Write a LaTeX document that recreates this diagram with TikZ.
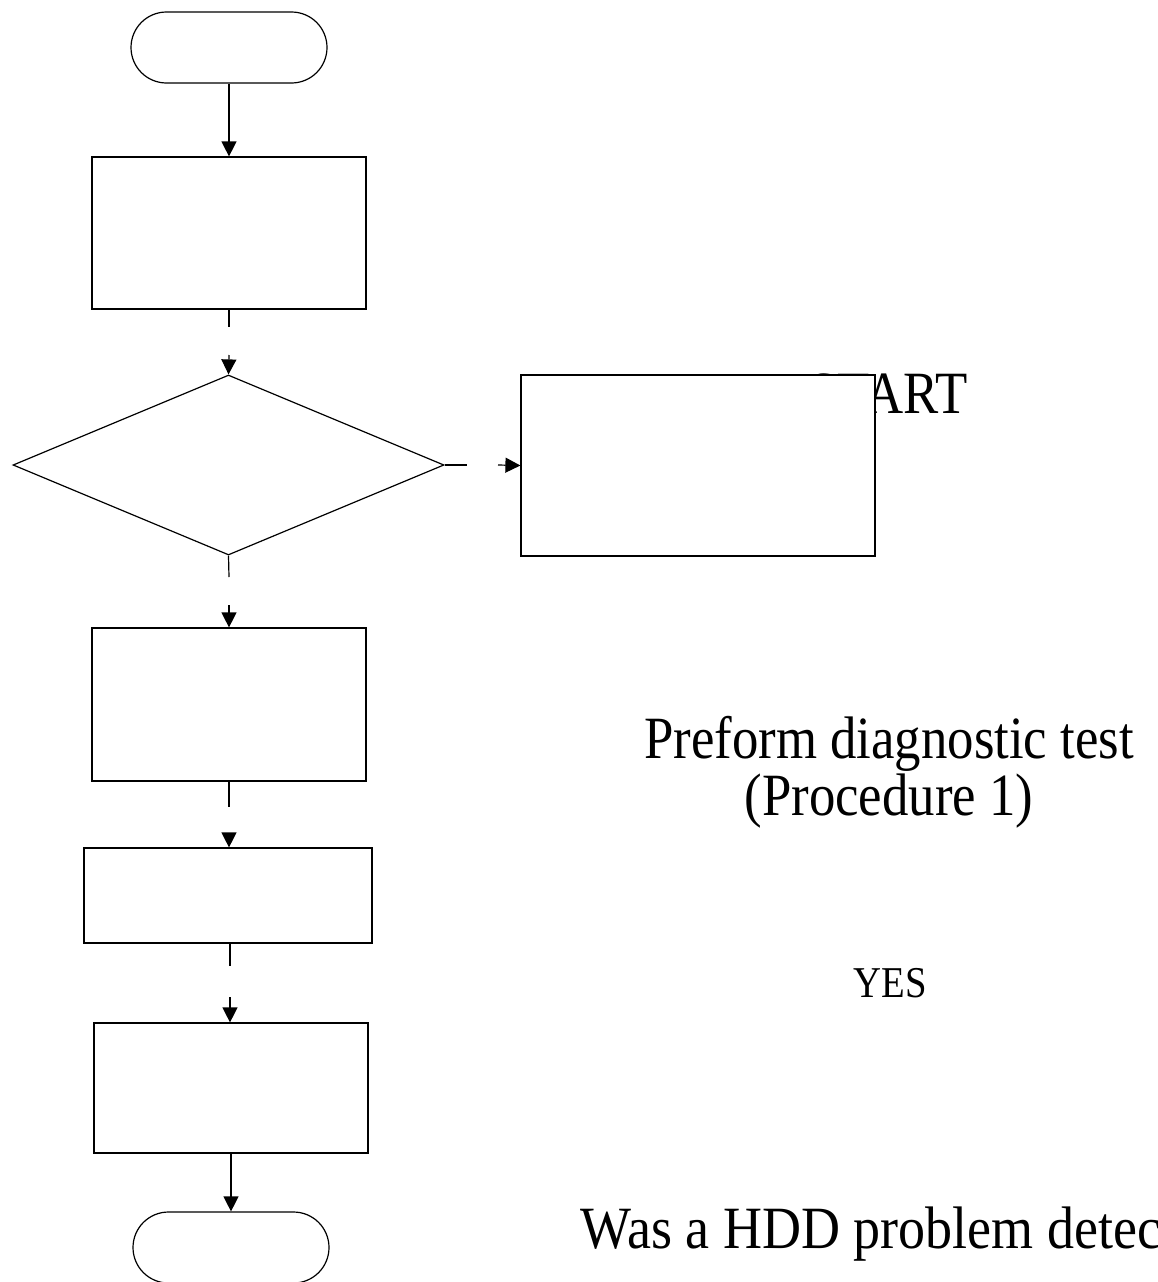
\documentclass[tikz,border=0pt]{standalone}
\usepackage{fontspec}
\usetikzlibrary{arrows.meta,shapes.geometric,shapes.misc}
\newfontfamily\labelfont[FakeStretch=0.88]{Liberation Serif}
\newfontfamily\widelabelfont[FakeStretch=0.9]{Liberation Serif}
\begin{document}
\begin{tikzpicture}[x=1pt,y=-1pt,line width=1.2pt,
  txt/.style={font=\labelfont\fontsize{60}{57}\selectfont,inner sep=0pt,anchor=base},
  widetxt/.style={font=\widelabelfont\fontsize{60}{57}\selectfont,inner sep=0pt,anchor=base west},
  smalltxt/.style={font=\labelfont\fontsize{44}{44}\selectfont,inner sep=0pt,anchor=base},
  stepbox/.style={draw,fill=white,rectangle,inner sep=0pt},
  term/.style={draw,fill=white,rounded rectangle,inner sep=0pt,minimum width=196pt,minimum height=71pt},
  decision/.style={draw,fill=white,diamond,inner sep=0pt,minimum width=431pt,minimum height=180pt},
  arr/.style={-{Triangle[length=15pt,width=15pt]}}]
\useasboundingbox (0,0) rectangle (1157,1282);
\clip (0,0) rectangle (1157,1282);

% labels
\node[txt] (lstart) at (888,413) {START};
\node[txt] (ldiag1) at (889,758) {Preform diagnostic test};
\node[txt] (ldiag2) at (889,815) {(Procedure 1)};
\node[smalltxt] (lyes) at (890,997) {YES};
\node[widetxt] (lhdd) at (580,1248) {Was a HDD problem detected?};

% shapes
\node[term] (start) at (229,47.5) {};
\node[stepbox,minimum width=274pt,minimum height=152pt] (b1) at (229,233) {};
\node[decision] (dec) at (228.5,465) {};
\node[stepbox,minimum width=354pt,minimum height=181pt] (side) at (698,465.5) {};
\node[stepbox,minimum width=274pt,minimum height=153pt] (b3) at (229,704.5) {};
\node[stepbox,minimum width=288pt,minimum height=95pt] (b4) at (228,895.5) {};
\node[stepbox,minimum width=274pt,minimum height=130pt] (b5) at (231,1088) {};
\node[term] (fin) at (231,1247.5) {};

% connector break points
\coordinate (g1a) at (229,327);
\coordinate (g1b) at (229,355);
\coordinate (g2a) at (467,465);
\coordinate (g2b) at (498,465);
\coordinate (g3a) at (229,577);
\coordinate (g3b) at (229,605);
\coordinate (g4a) at (229,807);
\coordinate (g4b) at (229,838);
\coordinate (g5a) at (230,966);
\coordinate (g5b) at (230,997);

% connectors
\draw[arr] (start.south) -- (b1.north);
\draw (b1.south) -- (g1a);
\draw[arr] (g1b) -- (dec.north);
\draw (dec.east) -- (g2a);
\draw[arr] (g2b) -- (side.west);
\draw (dec.south) -- (g3a);
\draw[arr] (g3b) -- (b3.north);
\draw (b3.south) -- (g4a);
\draw[arr] (g4b) -- (g4b |- b4.north);
\draw (b4.south -| g5a) -- (g5a);
\draw[arr] (g5b) -- (g5b |- b5.north);
\draw[arr] (b5.south) -- (fin.north);
\end{tikzpicture}
\end{document}
